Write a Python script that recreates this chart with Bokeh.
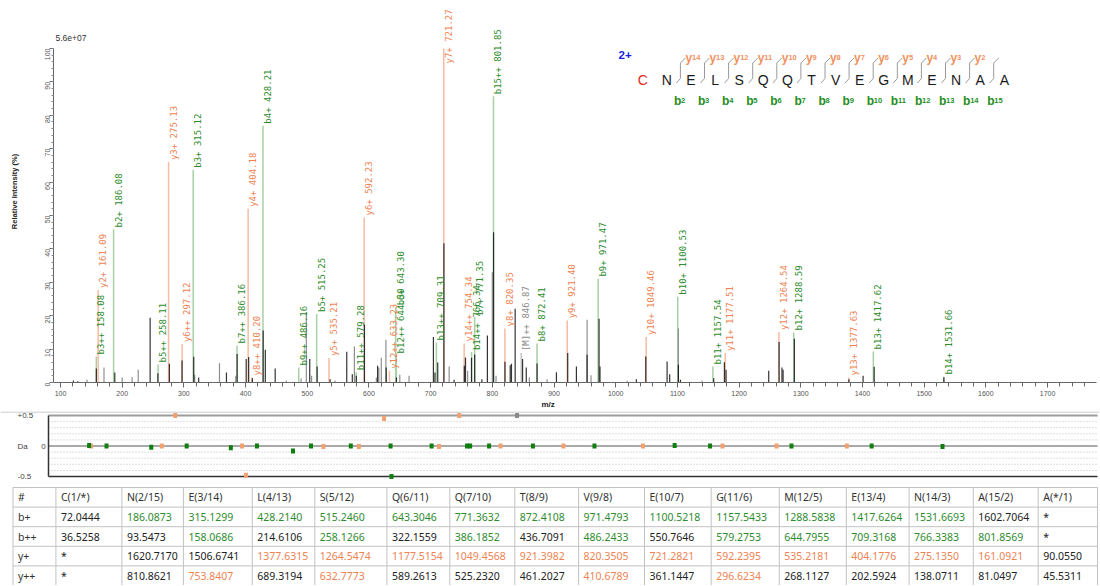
import math
from bokeh.plotting import figure
from bokeh.layouts import column
from bokeh.models import Range1d, FixedTicker, Title
from bokeh.core.properties import value
from bokeh.embed import file_html
from bokeh.resources import INLINE

# ---------------- data ----------------
peptide = list("CNELSQQTVEGMENAA")
charge_text = "2+"
max_intensity_text = "5.6e+07"

b_names = ["b3++", "b2+", "b5++", "b3+", "b7++", "b4+", "b9++", "b5+", "b11++", "b6+", "b12++",
           "b13++", "b14++", "b7+", "b15++", "b8+", "b9+", "b10+", "b11+", "b12+", "b13+", "b14+"]
b_obs = [158.08, 186.08, 258.11, 315.12, 386.16, 428.21, 486.16, 515.25, 579.28, 643.30, 644.30,
         709.31, 766.34, 771.35, 801.85, 872.41, 971.47, 1100.53, 1157.54, 1288.59, 1417.62, 1531.66]
b_int = [7.8, 45.8, 5.4, 63.7, 11.1, 76.9, 4.5, 20.5, 3.1, 22.5, 8.1,
         12.0, 9.1, 19.6, 85.7, 11.7, 31.1, 25.7, 4.8, 15.0, 9.3, 1.8]
b_theo = [158.0686, 186.0873, 258.1266, 315.1299, 386.1852, 428.2140, 486.2433, 515.2460, 579.2753,
          643.3046, 644.7955, 709.3168, 766.3383, 771.3632, 801.8569, 872.4108, 971.4793, 1100.5218,
          1157.5433, 1288.5838, 1417.6264, 1531.6693]
b_err = [0.01, 0.0, -0.02, 0.0, -0.03, 0.0, -0.08, 0.0, 0.0, 0.0, -0.5,
         0.0, 0.0, 0.0, 0.0, 0.0, 0.0, 0.01, 0.0, 0.0, 0.0, -0.01]

y_names = ["y2+", "y3+", "y6++", "y4+", "y8++", "y5+", "y6+", "y12++", "y7+", "y14++", "y8+",
           "y9+", "y10+", "y11+", "y12+", "y13+"]
y_obs = [161.09, 275.13, 297.12, 404.18, 410.20, 535.21, 592.23, 633.23, 721.27, 754.34, 820.35,
         921.40, 1049.46, 1177.51, 1264.54, 1377.63]
y_int = [27.7, 66.0, 11.5, 52.0, 1.5, 7.3, 49.4, 3.5, 100.0, 11.7, 16.2,
         18.6, 13.6, 8.8, 15.1, 1.5]
y_theo = [161.0921, 275.1350, 296.6234, 404.1776, 410.6789, 535.2181, 592.2395, 632.7773, 721.2821,
          753.8407, 820.3505, 921.3982, 1049.4568, 1177.5154, 1264.5474, 1377.6315]
y_err = [0.0, 0.0, 0.5, 0.0, -0.48, -0.01, -0.01, 0.45, -0.01, 0.5, 0.0,
         0.0, 0.0, 0.0, 0.0, 0.0]

m_names = ["[M]++"]
m_obs = [846.87]
m_int = [8.8]
m_err = [0.5]

black_mz = [121.0, 128.0, 158.1, 188.0, 245.3, 257.9, 276.5, 297.0, 316.0, 324.0,
            369.0, 386.3, 401.0, 405.0, 411.0, 428.5, 432.0, 448.0, 504.0, 516.0,
            537.0, 564.0, 573.0, 579.5, 592.7, 614.0, 628.0, 644.5, 704.5, 707.0,
            711.5, 721.5, 738.0, 754.6, 756.5, 766.3, 771.4, 783.0, 792.0, 802.0,
            820.5, 829.0, 831.0, 837.0, 849.0, 855.0, 872.5, 903.9, 922.2, 936.3,
            953.6, 973.0, 974.5, 1033.5, 1048.7, 1083.3, 1087.5, 1101.6, 1104.9, 1158.8,
            1176.2, 1178.9, 1248.0, 1264.8, 1269.5, 1271.3, 1289.6, 1378.0, 1401.0, 1419.0,
            1532.0]
black_int = [0.6, 0.4, 4.2, 3.0, 19.4, 2.8, 5.6, 6.6, 7.7, 1.5,
             3.0, 8.5, 7.0, 7.6, 1.3, 15.6, 9.8, 4.2, 7.0, 4.8,
             1.0, 9.2, 2.5, 2.0, 17.4, 5.0, 4.5, 1.5, 13.6, 3.0,
             6.0, 41.7, 0.8, 5.0, 7.5, 7.4, 8.4, 1.0, 14.1, 45.0,
             6.2, 5.2, 5.6, 22.1, 7.0, 4.5, 5.7, 3.1, 8.8, 4.8,
             8.3, 19.1, 4.8, 1.0, 7.8, 6.3, 2.5, 5.3, 0.8, 1.3,
             6.1, 3.8, 3.5, 12.1, 4.5, 3.8, 13.1, 1.0, 2.0, 4.7,
             1.5]
gray_mz = [143.0, 170.5, 200.0, 216.0, 226.0, 317.5, 357.7, 384.0, 466.0, 490.0,
           498.5, 507.0, 545.0, 576.4, 612.0, 616.0, 620.0, 627.5, 650.0, 665.0,
           730.0, 760.0, 800.0, 806.0, 860.0, 888.8, 953.6, 960.0, 1018.5, 1101.6,
           1140.0]
gray_int = [0.8, 4.5, 1.5, 1.6, 3.8, 2.3, 5.8, 2.0, 0.6, 1.2,
            21.0, 2.0, 0.6, 10.8, 1.5, 4.5, 7.4, 12.8, 2.3, 2.0,
            4.8, 3.5, 33.0, 2.0, 1.5, 1.0, 18.8, 2.2, 0.5, 16.2,
            0.5]

x_ticks = list(range(100, 1800, 100))
x_minor = list(range(100, 1780, 20))
y_ticks = list(range(0, 110, 10))
y_minor = list(range(0, 102, 2))
err_ticks = [0.5, 0.0, -0.5]
err_tick_labels = ["+0.5", "0", "-0.5"]
err_grid = [0.4, 0.3, 0.2, 0.1, -0.1, -0.2, -0.3, -0.4]

table_header = ["#", "C(1/*)", "N(2/15)", "E(3/14)", "L(4/13)", "S(5/12)", "Q(6/11)", "Q(7/10)",
                "T(8/9)", "V(9/8)", "E(10/7)", "G(11/6)", "M(12/5)", "E(13/4)", "N(14/3)",
                "A(15/2)", "A(*/1)"]
table_row_names = ["b+", "b++", "y+", "y++"]
tbl_b1 = ["72.0444", "186.0873", "315.1299", "428.2140", "515.2460", "643.3046", "771.3632",
          "872.4108", "971.4793", "1100.5218", "1157.5433", "1288.5838", "1417.6264",
          "1531.6693", "1602.7064", "*"]
tbl_b2 = ["36.5258", "93.5473", "158.0686", "214.6106", "258.1266", "322.1559", "386.1852",
          "436.7091", "486.2433", "550.7646", "579.2753", "644.7955", "709.3168", "766.3383",
          "801.8569", "*"]
tbl_y1 = ["*", "1620.7170", "1506.6741", "1377.6315", "1264.5474", "1177.5154", "1049.4568",
          "921.3982", "820.3505", "721.2821", "592.2395", "535.2181", "404.1776", "275.1350",
          "161.0921", "90.0550"]
tbl_y2 = ["*", "810.8621", "753.8407", "689.3194", "632.7773", "589.2613", "525.2320",
          "461.2027", "410.6789", "361.1447", "296.6234", "268.1127", "202.5924", "138.0711",
          "81.0497", "45.5311"]

# ---------------- styles ----------------
G_TXT, G_LINE, G_PT = "#2e8b2e", "#a6d1a6", "#0f7f0f"
O_TXT, O_LINE, O_PT = "#ee8352", "#f6bba3", "#f5a070"
M_TXT, M_LINE = "#8a8a8a", "#c4c4c4"
MONO = value("DejaVu Sans Mono")
SANS = value("Liberation Sans")
W = 1099

# ---------------- spectrum ----------------
XS = 88.65
PXU = 0.6169                 # px per m/z unit
FL, FR = 53, 1096            # frame edges (px)
XE = XS + (FR - FL) / PXU
PYU = 3.34                   # px per % unit
YE = 382 / PYU

p1 = figure(width=W, height=411, x_range=Range1d(XS, XE), y_range=Range1d(0, YE),
            output_backend="svg", toolbar_location=None, frame_align=False,
            min_border_left=FL, min_border_right=W - FR, min_border_top=0, min_border_bottom=29)
p1.grid.visible = False
p1.outline_line_color = None

xa = p1.xaxis[0]
xa.ticker = FixedTicker(ticks=x_ticks, minor_ticks=x_minor)
xa.major_label_text_font_size = "7px"
xa.major_label_text_color = "#555555"
xa.axis_line_color = "#666666"
xa.major_tick_line_color = "#666666"
xa.minor_tick_line_color = "#666666"
xa.major_tick_in = 0
xa.major_tick_out = 5
xa.minor_tick_in = 0
xa.minor_tick_out = 4
xa.major_label_standoff = 3

ya = p1.yaxis[0]
ya.ticker = FixedTicker(ticks=y_ticks, minor_ticks=y_minor)
ya.bounds = (0, 100)
ya.major_label_orientation = math.pi / 2
ya.major_label_text_font_size = "7px"
ya.major_label_text_color = "#555555"
ya.axis_line_color = "#666666"
ya.major_tick_line_color = "#666666"
ya.minor_tick_line_color = "#888888"
ya.major_tick_in = 0
ya.major_tick_out = 4
ya.minor_tick_in = 0
ya.minor_tick_out = 2
ya.major_label_standoff = 2
ya.axis_label = "Relative Intensity (%)"
ya.axis_label_text_font = "Liberation Sans"
ya.axis_label_text_font_size = "7.5px"
ya.axis_label_text_font_style = "bold"
ya.axis_label_text_color = "#222222"
ya.axis_label_standoff = 21

p1.add_layout(Title(text="m/z", align="left", offset=488, vertical_align="middle", standoff=0,
                    text_font="Liberation Sans", text_font_size="8px", text_font_style="bold",
                    text_color="#222222"), "below")


def sx(px):
    return XS + (px - FL) / PXU


def sy(py):
    return (382 - py) / PYU


# annotated peaks (pale coloured sticks)
p1.segment(x0=b_obs, y0=[0] * len(b_obs), x1=b_obs, y1=b_int, line_color=G_LINE, line_width=1.5)
p1.segment(x0=y_obs, y0=[0] * len(y_obs), x1=y_obs, y1=y_int, line_color=O_LINE, line_width=1.5)
p1.segment(x0=m_obs, y0=[0] * len(m_obs), x1=m_obs, y1=m_int, line_color=M_LINE, line_width=1.5)
# raw peaks
p1.segment(x0=gray_mz, y0=[0] * len(gray_mz), x1=gray_mz, y1=gray_int, line_color="#8f8f8f", line_width=1.2)
p1.segment(x0=black_mz, y0=[0] * len(black_mz), x1=black_mz, y1=black_int, line_color="#111111",
           line_width=1.2, line_alpha=0.85)


def ann(names, obs, inten, color):
    txt = [f"{n} {v:.2f}" for n, v in zip(names, obs)]
    ly = [min(i + 0.6, 95.5) for i in inten]
    p1.text(x=obs, y=ly, text=txt, angle=math.pi / 2, text_align="left", text_baseline="top",
            text_font=MONO, text_font_size="9px", text_color=color)


ann(b_names, b_obs, b_int, G_TXT)
ann(y_names, y_obs, y_int, O_TXT)
ann(m_names, m_obs, m_int, M_TXT)

p1.text(x=[sx(55)], y=[sy(37)], text=[max_intensity_text], text_align="left", text_baseline="middle",
        text_font=SANS, text_font_size="8.5px", text_color="#333333")

# peptide sequence graphic
n = len(peptide)
lx = [sx(642.3 + i * 24.1) for i in range(n)]
p1.text(x=lx, y=[sy(79.3)] * n, text=peptide, text_align="center", text_baseline="alphabetic",
        text_font=SANS, text_font_size="14px",
        text_color=["#e02828"] + ["#1a1a1a"] * (n - 1))
p1.text(x=[sx(618)], y=[sy(54)], text=[charge_text], text_align="left", text_baseline="middle",
        text_font=SANS, text_font_size="11.5px", text_font_style="bold", text_color="#1c1ce0")
cuts = [642.3 + (i + 1) * 24.1 + 13.5 for i in range(n - 2)]
p1.multi_line(xs=[[sx(c + 5), sx(c), sx(c), sx(c - 4)] for c in cuts],
              ys=[[sy(57.5), sy(62.5), sy(78), sy(82.5)] for c in cuts],
              line_color="#9a9a9a", line_width=1)
ny = n - 3
p1.text(x=[sx(c + 5) for c in cuts[:ny]], y=[sy(57.3)] * ny, text=["y"] * ny,
        text_align="left", text_baseline="alphabetic", text_font=SANS, text_font_size="12px",
        text_font_style="bold", text_color="#f0925e")
p1.text(x=[sx(c + 11.6) for c in cuts[:ny]], y=[sy(57.3)] * ny, text=[str(n - 2 - k) for k in range(ny)],
        text_align="left", text_baseline="alphabetic", text_font=SANS, text_font_size="7.5px",
        text_font_style="bold", text_color="#f0925e")
nb = len(cuts)
p1.text(x=[sx(c - 6.5) for c in cuts], y=[sy(100)] * nb, text=["b"] * nb,
        text_align="left", text_baseline="alphabetic", text_font=SANS, text_font_size="12px",
        text_font_style="bold", text_color="#1f8f1f")
p1.text(x=[sx(c + 0.6) for c in cuts], y=[sy(100)] * nb, text=[str(k + 2) for k in range(nb)],
        text_align="left", text_baseline="alphabetic", text_font=SANS, text_font_size="7.5px",
        text_font_style="bold", text_color="#1f8f1f")

# ---------------- mass error plot ----------------
EPX = 0.6213
ES = 9.6 / EPX
EE = ES + W / EPX
p2 = figure(width=W, height=75, x_range=Range1d(ES, EE), y_range=Range1d(-0.664, 0.566),
            x_axis_type=None, y_axis_type=None, output_backend="svg", toolbar_location=None,
            min_border=0, frame_align=False)
p2.outline_line_color = None


def ex(px):
    return ES + px / EPX


box_l, box_r = ex(48), ex(1097)
p2.segment(x0=[ES], y0=[0.558], x1=[EE], y1=[0.558], line_color="#d2d2d2", line_width=1.5)
p2.segment(x0=[box_l] * len(err_grid), y0=err_grid, x1=[box_r] * len(err_grid), y1=err_grid,
           line_color="#bdbdbd", line_width=1, line_dash="1 2")
p2.segment(x0=[box_l], y0=[0], x1=[box_r], y1=[0], line_color="#a9a9a9", line_width=2)
p2.segment(x0=[box_l], y0=[0.5], x1=[box_r], y1=[0.5], line_color="#9c9c9c", line_width=2)
p2.segment(x0=[box_l], y0=[-0.5], x1=[box_r], y1=[-0.5], line_color="#333333", line_width=1.5)
p2.segment(x0=[box_l], y0=[-0.5], x1=[box_l], y1=[0.5], line_color="#333333", line_width=1.5)
p2.text(x=[ex(17), ex(43), ex(17)], y=err_ticks, text=err_tick_labels,
        text_align=["left", "center", "left"], text_baseline="middle",
        text_font=SANS, text_font_size="8px", text_color="#444444")
p2.text(x=[ex(17)], y=[0], text=["Da"], text_align="left", text_baseline="middle",
        text_font=SANS, text_font_size="8px", text_color="#444444")
p2.rect(x=m_obs, y=m_err, width=4, height=5, width_units="screen", height_units="screen",
        fill_color="#8a8a8a", line_color=None)
p2.rect(x=y_theo, y=y_err, width=4, height=5, width_units="screen", height_units="screen",
        fill_color=O_PT, line_color=None)
p2.rect(x=b_theo, y=b_err, width=4, height=5, width_units="screen", height_units="screen",
        fill_color=G_PT, line_color=None)

# ---------------- fragment table ----------------
p3 = figure(width=W, height=99, x_range=Range1d(0, W), y_range=Range1d(585, 486),
            x_axis_type=None, y_axis_type=None, output_backend="svg", toolbar_location=None,
            min_border=0, frame_align=False)
p3.outline_line_color = None
col_edges = [12.5, 55.4, 121.4, 182.9, 251.8, 314.3, 386.4, 449.3, 514.3, 578.1, 644.0,
             710.7, 778.8, 845.8, 908.6, 972.8, 1037.7, 1097.0]
row_h = 19.6
row_edges = [487 + row_h * i for i in range(6)]
p3.segment(x0=[col_edges[0]] * len(row_edges), y0=row_edges, x1=[col_edges[-1]] * len(row_edges),
           y1=row_edges, line_color="#c2c2c2", line_width=1)
p3.segment(x0=col_edges, y0=[row_edges[0]] * len(col_edges), x1=col_edges,
           y1=[row_edges[-1]] * len(col_edges), line_color="#c2c2c2", line_width=1)

theo_b = set(f"{v:.4f}" for v in b_theo)
theo_y = set(f"{v:.4f}" for v in y_theo)
tx, ty, tt, tc = [], [], [], []
mid = [(row_edges[i] + row_edges[i + 1]) / 2 for i in range(5)]
for j, h in enumerate(table_header):
    tx.append(col_edges[j] + 5); ty.append(mid[0]); tt.append(h); tc.append("#333333")
rows = [tbl_b1, tbl_b2, tbl_y1, tbl_y2]
for r, (name, vals) in enumerate(zip(table_row_names, rows)):
    tx.append(col_edges[0] + 5); ty.append(mid[r + 1]); tt.append(name); tc.append("#333333")
    hits = theo_b if r < 2 else theo_y
    hc = G_TXT if r < 2 else O_TXT
    for j, v in enumerate(vals):
        tx.append(col_edges[j + 1] + 5); ty.append(mid[r + 1]); tt.append(v)
        tc.append(hc if v in hits else "#222222")
p3.text(x=tx, y=ty, text=tt, text_color=tc, text_align="left", text_baseline="middle",
        text_font=value("Noto Sans"), text_font_size="10.5px")

layout = column(p1, p2, p3)
open("out.html", "w").write(file_html(layout, INLINE))
